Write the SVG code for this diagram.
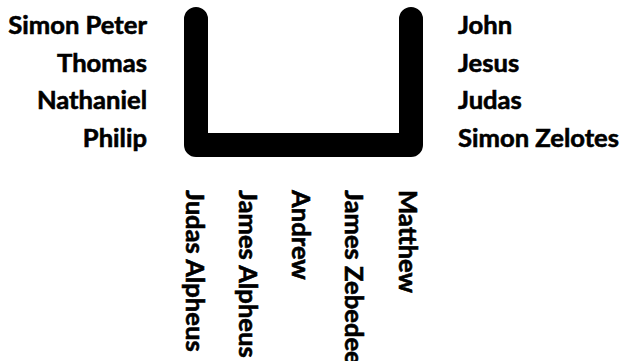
<svg xmlns="http://www.w3.org/2000/svg" width="621" height="361" viewBox="0 0 621 361">
<style>
text{font-family:Lato,"Noto Sans",sans-serif;font-weight:700;font-size:25.6px;fill:#000;stroke:#000;stroke-width:0.6px}
.l{text-anchor:end}
.conn{fill:none;stroke:#000;stroke-width:24;stroke-linecap:round;stroke-linejoin:round}
</style>
<rect width="621" height="361" fill="#fff"/>
<g id="connectors"><path class="conn" d="M196,19 L196,145 L411,145 L411,19"/></g>
<g id="left">
<g id="simon-peter"><text class="l" x="147" y="34">Simon Peter</text></g>
<g id="thomas"><text class="l" x="147" y="71.7">Thomas</text></g>
<g id="nathaniel"><text class="l" x="147" y="109.3">Nathaniel</text></g>
<g id="philip"><text class="l" x="147" y="147">Philip</text></g>
</g>
<g id="right">
<g id="john"><text x="458" y="34">John</text></g>
<g id="jesus"><text x="458" y="71.7">Jesus</text></g>
<g id="judas"><text x="458" y="109.3">Judas</text></g>
<g id="simon-zelotes"><text x="458" y="147">Simon Zelotes</text></g>
</g>
<g id="bottom">
<g id="judas-alpheus"><text transform="translate(185.5,190) rotate(90)">Judas Alpheus</text></g>
<g id="james-alpheus"><text transform="translate(239,190) rotate(90)">James Alpheus</text></g>
<g id="andrew"><text transform="translate(292,190) rotate(90)">Andrew</text></g>
<g id="james-zebedee"><text transform="translate(345,190) rotate(90)">James Zebedee</text></g>
<g id="matthew"><text transform="translate(398.5,190) rotate(90)">Matthew</text></g>
</g>
</svg>
